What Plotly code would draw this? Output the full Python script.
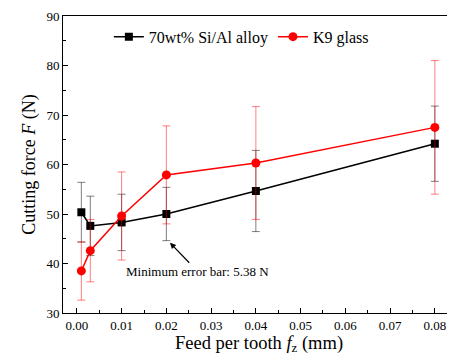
import plotly.graph_objects as go

feed = [0.001, 0.003, 0.01, 0.02, 0.04, 0.08]
sial_force = [50.35, 47.6, 48.3, 50.0, 54.65, 64.2]
sial_err = [6.05, 6.0, 5.7, 5.38, 8.2, 7.6]
k9_force = [38.5, 42.6, 49.6, 57.9, 60.3, 67.5]
k9_err = [5.9, 6.3, 8.9, 9.9, 11.4, 13.5]

FONT = "Liberation Serif, Times New Roman, serif"

fig = go.Figure()
fig.add_trace(go.Scatter(
    x=feed, y=sial_force, name="70wt% Si/Al alloy", mode="lines+markers",
    line=dict(color="black", width=1.5),
    marker=dict(symbol="square", size=8, color="black"),
    error_y=dict(type="data", array=sial_err, visible=True,
                 color="rgba(0,0,0,0.5)", thickness=1, width=4),
))
fig.add_trace(go.Scatter(
    x=feed, y=k9_force, name="K9 glass", mode="lines+markers",
    line=dict(color="red", width=1.5),
    marker=dict(symbol="circle", size=9, color="red"),
    error_y=dict(type="data", array=k9_err, visible=True,
                 color="rgba(255,0,0,0.5)", thickness=1, width=4),
))

fig.add_annotation(
    x=0.0208, y=44.2, xref="x", yref="y",
    text="Minimum error bar: 5.38 N", showarrow=True,
    arrowhead=2, arrowsize=1, arrowwidth=1.2, arrowcolor="black",
    ax=28, ay=29, font=dict(family=FONT, size=13, color="black"),
)

fig.update_layout(
    width=447, height=350,
    margin=dict(l=55, r=0, t=8, b=45, autoexpand=False),
    paper_bgcolor="white", plot_bgcolor="white",
    font=dict(family=FONT, size=13, color="black"),
    showlegend=True,
    legend=dict(orientation="h", x=0.455, y=0.93, xanchor="center", yanchor="middle",
                font=dict(family=FONT, size=16, color="black"), bgcolor="rgba(0,0,0,0)",
                itemwidth=30, tracegroupgap=0),
    xaxis=dict(
        range=[-0.0031, 0.0845], dtick=0.01, tick0=0, tickformat=".2f",
        showgrid=False, zeroline=False, showline=True, linecolor="black", linewidth=1,
        mirror=True, ticks="inside", ticklen=5, tickcolor="black", automargin=False,
        minor=dict(dtick=0.005, ticks="inside", ticklen=3, tickcolor="black"),
        title=dict(text="Feed per tooth <i>f</i><sub>z</sub> (mm)",
                   font=dict(family=FONT, size=18.5, color="black"), standoff=3),
        tickfont=dict(family=FONT, size=13, color="black"),
    ),
    yaxis=dict(
        range=[30, 90], dtick=10,
        showgrid=False, zeroline=False, showline=True, linecolor="black", linewidth=1,
        ticks="inside", ticklen=5, tickcolor="black", automargin=False,
        minor=dict(dtick=5, ticks="inside", ticklen=3, tickcolor="black"),
        title=dict(text="Cutting force <i>F</i> (N)",
                   font=dict(family=FONT, size=18, color="black"), standoff=6),
        tickfont=dict(family=FONT, size=13, color="black"),
    ),
)

fig.write_html("out.html")
